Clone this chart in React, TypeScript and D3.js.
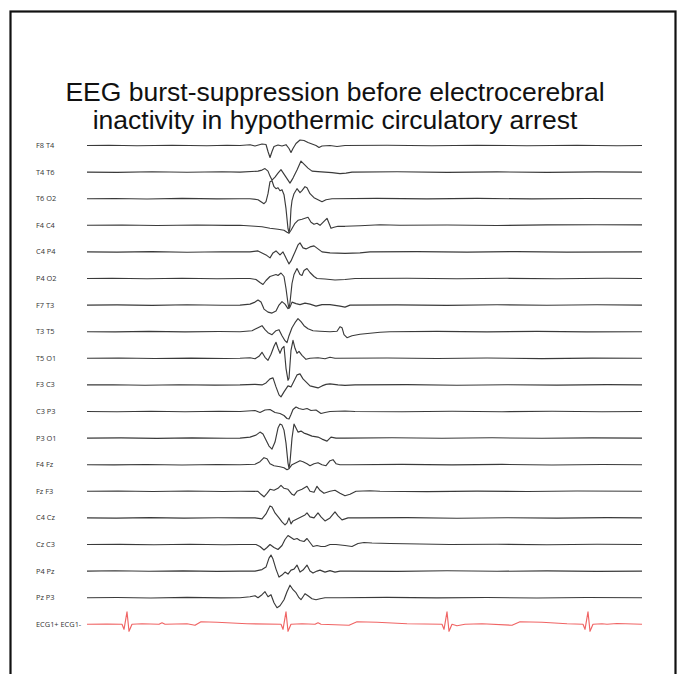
import React, { useEffect, useRef } from "react";
import * as d3 from "d3";

// samples at 50 Hz (one sample = 20 ms), amplitude in µV
const titleLines = [
  "EEG burst-suppression before electrocerebral",
  "inactivity in hypothermic circulatory arrest",
];

const channelNames = [
  "F8 T4", "T4 T6", "T6 O2", "F4 C4", "C4 P4", "P4 O2", "F7 T3", "T3 T5", "T5 O1",
  "F3 C3", "C3 P3", "P3 O1", "F4 Fz", "Fz F3", "C4 Cz", "Cz C3", "P4 Pz", "Pz P3",
];
const ecgName = "ECG1+ ECG1-";

const f8t4: [number, number][] = [[0,0],[22,3],[50,-3],[85,2],[120,-3],[140,2],
  [153,0],[163,8],[168,-5],[175,15],[179,10],[181,-60],[183,-120],[185,-60],[187,-10],[191,5],[195,-5],[199,8],[202,-30],[204,-70],[206,-30],[209,20],[213,55],[217,50],[221,30],[225,15],[229,0],[232,-20],[235,-5],[243,0],[250,-10],[258,0],
  [300,3],[345,-3],[390,3],[440,-2],[490,3],[530,-2],[555,0]];
const t4t6: [number, number][] = [[0,0],[30,-3],[65,3],[100,-2],[135,3],
  [153,0],[171,10],[175,20],[178,35],[181,10],[183,-40],[185,-80],[188,-50],[191,-10],[194,25],[197,-20],[201,-80],[203,-110],[206,-60],[210,20],[214,110],[217,80],[221,40],[225,10],[231,5],[238,0],[245,-5],[253,-15],[259,-10],[265,0],
  [310,3],[360,-3],[410,2],[460,-3],[510,2],[555,0]];
const t6o2: [number, number][] = [[0,0],[28,2],[60,-3],[95,3],[130,-2],
  [153,0],[163,0],[171,-10],[177,-50],[179,-30],[181,50],[183,170],[185,180],[187,120],[189,100],[191,110],[193,80],[195,90],[197,40],[199,-100],[201,-300],[202,-340],[203,-280],[204,-100],[205,-20],[207,50],[210,100],[213,60],[215,80],[218,120],[220,110],[223,50],[227,10],[231,-10],[235,-30],[239,-10],[245,0],
  [290,3],[340,-2],[390,3],[445,-2],[500,2],[555,0]];
const f4c4: [number, number][] = [[0,0],[35,3],[70,-2],[110,3],[140,-1],
  [153,0],[168,-10],[175,-15],[183,-30],[191,-40],[197,-50],[200,-70],[202,-80],[204,-50],[208,20],[211,50],[215,60],[218,70],[221,80],[224,30],[227,10],[230,20],[233,0],[237,40],[240,70],[242,20],[244,-30],[247,-20],[251,-10],[258,-10],[273,-5],[293,5],[313,0],
  [360,3],[410,-2],[460,4],[510,6],[555,5]];
const c4p4: [number, number][] = [[0,0],[30,-2],[65,3],[100,-3],[135,2],
  [153,0],[163,0],[171,10],[175,-10],[179,-30],[183,-60],[186,-10],[189,10],[193,-30],[196,0],[199,-60],[202,-120],[204,-90],[208,0],[211,70],[213,90],[216,40],[219,30],[223,50],[227,60],[231,30],[235,0],[243,-10],[258,-15],[273,-10],[283,0],
  [330,3],[380,-2],[430,3],[480,-2],[555,0]];
const p4o2: [number, number][] = [[0,0],[25,3],[60,-2],[95,2],[130,-3],
  [153,0],[163,0],[169,-10],[173,-40],[176,-60],[179,-20],[183,20],[186,30],[189,40],[191,30],[194,55],[197,20],[199,-100],[201,-250],[202,-300],[203,-240],[205,-50],[207,40],[210,100],[213,40],[215,30],[217,80],[220,100],[223,60],[227,20],[230,0],[238,-5],[248,-15],[258,-10],[268,0],
  [320,3],[370,-2],[420,2],[470,-3],[520,2],[555,0]];
const f7t3: [number, number][] = [[0,0],[30,2],[65,-3],[100,3],[135,-2],
  [153,0],[163,10],[168,30],[171,50],[174,30],[177,-40],[181,-70],[185,-80],[189,-60],[192,0],[195,35],[198,10],[201,-35],[203,-20],[205,30],[209,15],[213,5],[218,20],[223,10],[229,-10],[235,5],[243,5],[253,-10],[258,-20],[263,0],
  [310,2],[360,-3],[410,3],[460,-2],[510,3],[555,0]];
const t3t5: [number, number][] = [[0,0],[28,-2],[62,3],[98,-2],[132,2],
  [153,0],[165,10],[171,40],[175,60],[178,20],[181,-10],[185,-30],[189,10],[192,20],[195,-40],[198,-90],[200,-110],[202,-40],[205,40],[208,90],[211,130],[214,100],[217,60],[221,30],[226,10],[233,5],[243,0],[250,5],[253,50],[255,40],[257,-30],[260,-60],[265,-40],[273,-25],[283,-15],[293,-5],[303,0],
  [350,3],[400,-2],[450,3],[500,-2],[555,0]];
const t5o1: [number, number][] = [[0,0],[32,3],[68,-2],[104,2],[138,-2],
  [153,0],[163,5],[168,-5],[172,20],[175,60],[178,10],[181,-20],[184,40],[187,120],[189,160],[191,100],[193,50],[195,100],[197,120],[199,-100],[201,-220],[202,-200],[204,80],[206,180],[208,100],[210,50],[212,70],[215,30],[219,-10],[223,0],[231,5],[238,-5],[243,10],[248,0],
  [300,3],[350,-2],[400,3],[455,-3],[505,2],[555,0]];
const f3c3: [number, number][] = [[0,0],[26,2],[58,-3],[92,2],[128,-2],
  [153,0],[168,5],[175,0],[179,20],[183,60],[186,70],[189,-20],[192,-100],[194,-120],[197,-70],[201,-10],[204,-20],[207,40],[210,100],[213,110],[216,60],[219,30],[223,-10],[227,-20],[231,-30],[235,-10],[239,5],[243,10],[251,0],[258,-5],[268,0],
  [320,3],[370,-3],[420,2],[470,-2],[520,3],[555,0]];
const c3p3: [number, number][] = [[0,0],[30,-3],[64,2],[98,-2],[132,3],
  [153,0],[168,10],[173,-10],[178,15],[183,20],[188,-10],[193,-20],[197,-40],[200,-70],[202,-75],[204,-30],[206,20],[209,45],[212,30],[216,20],[220,30],[224,10],[229,15],[234,-20],[238,-10],[243,0],[258,5],[268,0],
  [315,-3],[365,3],[415,-2],[465,2],[515,-3],[555,0]];
const p3o1: [number, number][] = [[0,0],[34,2],[70,-3],[105,2],[140,-2],
  [153,0],[163,10],[169,30],[173,60],[176,40],[179,-20],[182,-80],[185,-110],[188,-40],[191,100],[193,140],[195,130],[197,80],[199,-50],[201,-250],[202,-300],[203,-240],[205,0],[207,140],[209,100],[211,60],[214,70],[217,50],[220,40],[225,20],[231,10],[235,-10],[240,-30],[244,10],[249,0],[258,0],
  [305,3],[355,-2],[405,3],[455,-2],[505,2],[555,0]];
const f4fz: [number, number][] = [[0,0],[27,-2],[60,2],[95,-3],[130,2],
  [153,0],[168,5],[173,30],[177,70],[180,60],[183,10],[187,-10],[193,-20],[197,-30],[200,-50],[202,-40],[205,0],[209,20],[213,40],[216,30],[220,10],[223,-10],[227,10],[231,20],[235,0],[239,-10],[243,40],[246,50],[249,10],[253,0],[263,0],
  [315,3],[365,-2],[415,3],[465,-3],[515,2],[555,0]];
const fzf3: [number, number][] = [[0,0],[31,3],[66,-2],[101,3],[136,-2],
  [153,0],[171,0],[174,-30],[177,-55],[180,-20],[183,20],[187,10],[191,30],[194,60],[197,30],[201,20],[205,-30],[207,-40],[210,0],[215,20],[220,50],[223,0],[227,-10],[230,50],[233,10],[237,-20],[243,0],[248,10],[253,-20],[258,-45],[263,-30],[269,0],[283,5],[293,0],
  [340,-3],[390,2],[440,-2],[490,3],[555,0]];
const c4cz: [number, number][] = [[0,0],[29,-2],[63,3],[97,-2],[131,2],
  [153,0],[168,0],[175,-10],[179,40],[183,120],[185,110],[188,50],[192,0],[195,-40],[198,-70],[200,-50],[202,0],[204,-60],[206,-30],[210,-10],[214,10],[218,30],[220,50],[223,10],[227,0],[231,50],[234,10],[238,-30],[243,0],[248,60],[251,20],[255,-20],[261,0],[273,0],
  [320,3],[370,-3],[420,2],[470,-2],[520,3],[555,0]];
const czc3: [number, number][] = [[0,0],[33,2],[67,-3],[103,2],[137,-2],
  [153,0],[169,0],[173,-20],[177,-55],[180,-30],[183,0],[187,-30],[191,-50],[195,-10],[198,50],[201,90],[204,70],[207,50],[210,60],[213,40],[217,30],[220,60],[223,20],[226,-20],[230,-10],[234,-20],[238,-20],[243,0],[249,0],[258,-10],[265,-20],[271,10],[277,20],[285,15],[303,10],[333,5],[363,0],
  [410,3],[460,-2],[510,3],[555,0]];
const p4pz: [number, number][] = [[0,0],[28,3],[62,-2],[96,2],[130,-3],
  [153,0],[168,0],[175,15],[179,40],[182,130],[184,160],[186,120],[189,20],[192,-60],[195,-40],[198,-10],[201,-30],[204,10],[207,20],[210,60],[213,-10],[216,10],[220,60],[223,0],[226,-20],[230,0],[233,10],[238,-10],[243,5],[248,-10],[253,0],[263,0],
  [310,-2],[360,3],[410,-2],[460,2],[510,-3],[555,0]];
const pzp3: [number, number][] = [[0,0],[30,2],[64,-3],[100,3],[134,-2],
  [153,0],[163,10],[168,20],[171,0],[175,30],[178,60],[181,10],[184,30],[187,-50],[190,-100],[193,-80],[197,-20],[200,60],[203,125],[206,80],[209,50],[212,0],[214,-20],[218,40],[221,20],[225,-10],[229,-20],[233,-10],[238,0],[253,0],
  [300,3],[350,-2],[400,2],[450,-3],[500,2],[555,0]];

const ecg: [number, number][] = [[0,0],[20,2],[35,0],[37,-50],[40,125],[42,-70],[45,0],[55,5],[72,0],[75,15],[78,0],[100,5],[108,-10],[114,25],[130,20],[160,5],
  [194,0],[196,-50],[199,125],[201,-70],[204,0],[215,5],[228,0],[231,15],[234,0],[262,-10],[270,25],[290,20],[320,5],
  [355,0],[357,-50],[360,125],[362,-70],[365,0],[370,-15],[378,0],[395,5],[425,-10],[433,25],[455,20],[480,5],
  [496,0],[498,-50],[501,125],[503,-70],[506,0],[515,5],[520,0],[530,8],[555,0]];

const eegSeries = [f8t4, t4t6, t6o2, f4c4, c4p4, p4o2, f7t3, t3t5, t5o1, f3c3, c3p3, p3o1, f4fz, fzf3, c4cz, czc3, p4pz, pzp3];

const App = () => {
  const svgRef = useRef<SVGSVGElement>(null);

  useEffect(() => {
    const W = 680, H = 674;
    const svg = d3.select(svgRef.current).attr("width", W).attr("height", H);
    svg.selectAll("*").remove();

    svg.append("rect").attr("width", W).attr("height", H).attr("fill", "#fff");
    svg.append("rect").attr("x", 10.5).attr("y", 11.5).attr("width", 665).attr("height", 720)
      .attr("fill", "none").attr("stroke", "#111").attr("stroke-width", 2.2);

    svg.selectAll("text.title").data(titleLines).enter().append("text")
      .attr("class", "title")
      .attr("x", 335).attr("y", (d, i) => 101 + i * 28)
      .attr("text-anchor", "middle")
      .style("font-family", "'Liberation Sans', Arial, sans-serif")
      .style("font-size", "26.5px").attr("fill", "#111")
      .text((d) => d);

    const allNames = [...channelNames, ecgName];
    const xScale = d3.scaleLinear().domain([0, 555]).range([87, 642]);
    const rowScale = d3.scalePoint<string>().domain(allNames).range([145.5, 624.3]);
    const ampScale = d3.scaleLinear().domain([-100, 100]).range([10, -10]);

    svg.selectAll("text.label").data(allNames).enter().append("text")
      .attr("class", "label")
      .attr("x", 36).attr("y", (d) => rowScale(d)!)
      .attr("dy", "0.35em")
      .style("font-family", "'Open Sans', 'Noto Sans', sans-serif")
      .style("font-size", "7.4px").attr("fill", "#333")
      .text((d) => d);

    const rows = allNames.map((name, i) => ({ name, values: i < eegSeries.length ? eegSeries[i] : ecg, isEcg: i === eegSeries.length }));

    rows.forEach((r) => {
      const base = rowScale(r.name)!;
      const line = d3.line<[number, number]>()
        .x((d) => xScale(d[0]))
        .y((d) => base + ampScale(d[1]))
        .curve(d3.curveLinear);
      svg.append("path").datum(r.values)
        .attr("d", line)
        .attr("fill", "none")
        .attr("stroke", r.isEcg ? "#f06464" : "#3a3a3a")
        .attr("stroke-width", 1.15)
        .attr("stroke-linejoin", "round");
    });
  }, []);

  return (
    <div style={{ position: "absolute", left: 0, top: 0 }}>
      <svg ref={svgRef} style={{ display: "block" }}></svg>
    </div>
  );
};

export default App;
